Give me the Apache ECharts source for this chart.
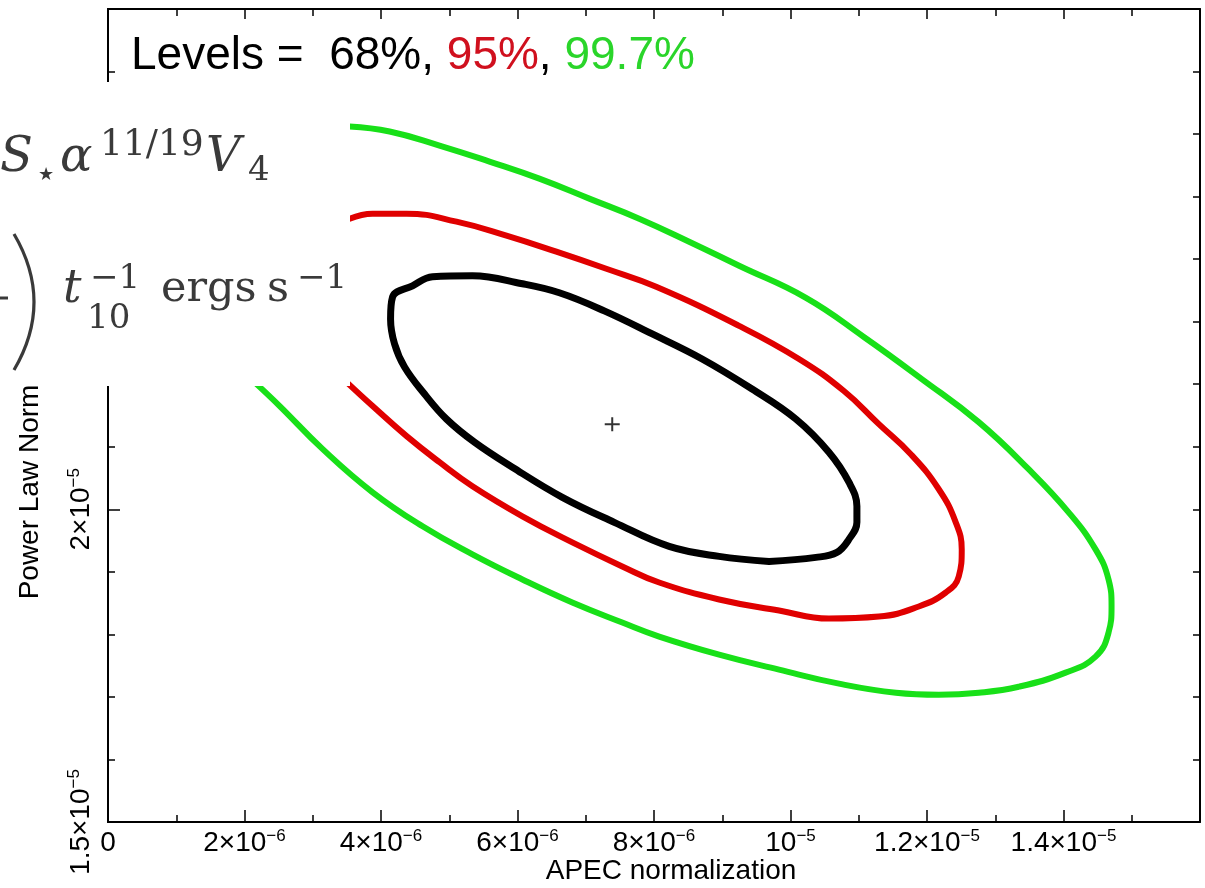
<!DOCTYPE html>
<html><head><meta charset="utf-8">
<script src="https://cdn.jsdelivr.net/npm/echarts@6/dist/echarts.min.js"></script>
<style>html,body{margin:0;padding:0;background:#fff}#c{width:1205px;height:888px}</style>
</head><body><div id="c"></div><script>
// ---- data (APEC normalization, Power Law Norm) ----
const contour68 = [
  [9.686e-6,19.167e-6],[8.954e-6,19.247e-6],
  [8.222e-6,19.407e-6],[7.418e-6,19.792e-6],[6.657e-6,20.192e-6],[5.925e-6,20.673e-6],[5.369e-6,21.074e-6],
  [4.960e-6,21.442e-6],[4.638e-6,21.843e-6],[4.345e-6,22.276e-6],[4.199e-6,22.644e-6],[4.140e-6,23.045e-6],
  [4.170e-6,23.397e-6],[4.462e-6,23.574e-6],[4.755e-6,23.718e-6],[5.340e-6,23.734e-6],[6.072e-6,23.606e-6],
  [6.613e-6,23.462e-6],[7.271e-6,23.173e-6],[7.974e-6,22.804e-6],[8.705e-6,22.404e-6],[9.437e-6,21.923e-6],
  [10.080e-6,21.442e-6],[10.563e-6,20.913e-6],[10.856e-6,20.433e-6],[10.973e-6,20.048e-6],[10.973e-6,19.792e-6],
  [10.856e-6,19.519e-6],[10.680e-6,19.311e-6],[10.373e-6,19.231e-6],[9.686e-6,19.167e-6]
];
const contour95 = [
  [3.541e-6,24.647e-6],[3.877e-6,24.728e-6],[4.375e-6,24.728e-6],[5.106e-6,24.599e-6],[5.838e-6,24.375e-6],
  [6.569e-6,24.119e-6],[7.301e-6,23.846e-6],[8.032e-6,23.558e-6],[9.247e-6,22.933e-6],[10.124e-6,22.404e-6],
  [10.783e-6,21.891e-6],[11.295e-6,21.362e-6],[11.763e-6,20.881e-6],[12.173e-6,20.321e-6],[12.421e-6,19.792e-6],
  [12.509e-6,19.359e-6],[12.465e-6,18.926e-6],[12.275e-6,18.670e-6],[11.880e-6,18.446e-6],[11.295e-6,18.285e-6],
  [10.563e-6,18.253e-6],[9.832e-6,18.381e-6],[8.954e-6,18.558e-6],[8.076e-6,18.830e-6],[7.535e-6,19.087e-6],
  [6.803e-6,19.471e-6],[6.072e-6,19.888e-6],[5.340e-6,20.369e-6],[4.857e-6,20.753e-6],[4.375e-6,21.170e-6],
  [3.877e-6,21.651e-6],[3.500e-6,22.030e-6]
];
const contour997 = [
  [3.541e-6,26.122e-6],[4.126e-6,26.042e-6],[4.857e-6,25.817e-6],[5.589e-6,25.561e-6],[6.320e-6,25.288e-6],
  [7.052e-6,24.968e-6],[7.783e-6,24.647e-6],[8.515e-6,24.279e-6],[9.247e-6,23.894e-6],[10.227e-6,23.381e-6],
  [11.075e-6,22.756e-6],[11.924e-6,22.083e-6],[12.758e-6,21.394e-6],[13.489e-6,20.641e-6],[14.075e-6,19.952e-6],
  [14.470e-6,19.359e-6],[14.660e-6,18.878e-6],[14.704e-6,18.446e-6],[14.660e-6,18.029e-6],[14.470e-6,17.644e-6],
  [14.031e-6,17.388e-6],[13.343e-6,17.163e-6],[12.758e-6,17.067e-6],[12.173e-6,17.035e-6],[11.544e-6,17.067e-6],
  [10.710e-6,17.212e-6],[9.832e-6,17.436e-6],[8.954e-6,17.676e-6],[8.076e-6,17.965e-6],[7.535e-6,18.189e-6],
  [6.803e-6,18.510e-6],[6.072e-6,18.878e-6],[5.340e-6,19.279e-6],[4.609e-6,19.728e-6],[3.877e-6,20.272e-6],
  [3.146e-6,20.962e-6],[2.516e-6,21.651e-6],[2.150e-6,22.030e-6]
];
const bestFit = [[7.388e-6, 21.362e-6]];

const xTickValues = [0, 2e-6, 4e-6, 6e-6, 8e-6, 10e-6, 12e-6, 14e-6];
const xTickLabels = ['0', '2×10^−6', '4×10^−6', '6×10^−6', '8×10^−6', '10^−5', '1.2×10^−5', '1.4×10^−5'];
const yTickValues = [15e-6, 20e-6];
const yTickLabels = ['1.5×10^−5', '2×10^−5'];
const levelNames = ['68%', '95%', '99.7%'];
const levelColors = ['#000000', '#e00000', '#18e018'];
const levelTextColors = ['#000000', '#d0101e', '#2ad52a'];
const xName = 'APEC normalization';
const yName = 'Power Law Norm';

// ---- chart ----
const SANS = '"Liberation Sans", Arial, Helvetica, sans-serif';
const SERIF = '"DejaVu Serif", "Liberation Serif", serif';
function fmt(values, labels) {
  return function (v) {
    for (let i = 0; i < values.length; i++) {
      if (Math.abs(v - values[i]) < 1e-10) {
        const p = labels[i].split('^');
        return '{b|' + p[0] + '}' + (p[1] ? '{s|' + p[1] + '}' : '');
      }
    }
    return '';
  };
}
const rich = {
  b: { fontSize: 28, lineHeight: 30, fontFamily: SANS, color: '#000' },
  s: { fontSize: 17, lineHeight: 22, verticalAlign: 'top', fontFamily: SANS, color: '#000' }
};
const axLine = { show: true, lineStyle: { color: '#000', width: 2 } };
function tick(len) { return { show: true, inside: true, length: len, lineStyle: { color: '#000', width: 1.5 } }; }

const chart = echarts.init(document.getElementById('c'), null, { renderer: 'canvas' });
const math = '#3a3a3a';
function mt(x, y, text, size, italic) {
  return { type: 'text', z: 101, x: x, y: y,
    style: { text: text, font: (italic ? 'italic ' : '') + size + 'px ' + SERIF, fill: math,
             textAlign: 'left', textVerticalAlign: 'middle' } };
}
function curve(color, width) { return { color: color, width: width, cap: 'round', join: 'round' }; }
chart.setOption({
  animation: false,
  backgroundColor: '#fff',
  grid: { left: 108, right: 5, top: 9, bottom: 66, containLabel: false },
  xAxis: [
    { type: 'value', position: 'bottom', min: 0, max: 16e-6, interval: 2e-6,
      axisLine: axLine, axisTick: tick(12),
      minorTick: { show: true, splitNumber: 2, length: 7, lineStyle: { color: '#000', width: 1.5 } },
      splitLine: { show: false }, minorSplitLine: { show: false },
      axisLabel: { margin: 6, formatter: fmt(xTickValues, xTickLabels), rich: rich, showMinLabel: true, showMaxLabel: true } },
    { type: 'value', position: 'top', min: 0, max: 16e-6, interval: 2e-6,
      axisLine: axLine, axisTick: tick(10),
      minorTick: { show: true, splitNumber: 2, length: 7, lineStyle: { color: '#000', width: 1.5 } },
      splitLine: { show: false }, axisLabel: { show: false } }
  ],
  yAxis: [
    { type: 'value', position: 'left', min: 15e-6, max: 28e-6, interval: 5e-6,
      axisLine: axLine, axisTick: tick(12), splitLine: { show: false },
      axisLabel: { rotate: 90, margin: 12, formatter: fmt(yTickValues, yTickLabels), rich: rich, showMinLabel: true } },
    { type: 'value', position: 'left', min: 15e-6, max: 28e-6, interval: 1e-6,
      axisLine: axLine, axisTick: tick(7), splitLine: { show: false }, axisLabel: { show: false } },
    { type: 'value', position: 'right', min: 15e-6, max: 28e-6, interval: 1e-6,
      axisLine: axLine, axisTick: tick(7), splitLine: { show: false }, axisLabel: { show: false } }
  ],
  series: [
    { name: levelNames[2], type: 'line', data: contour997, showSymbol: false, smooth: 0.45, silent: true,
      lineStyle: curve(levelColors[2], 6), z: 3 },
    { name: levelNames[1], type: 'line', data: contour95, showSymbol: false, smooth: 0.45, silent: true,
      lineStyle: curve(levelColors[1], 6), z: 3 },
    { name: levelNames[0], type: 'line', data: contour68, showSymbol: false, smooth: 0.4, silent: true,
      lineStyle: curve(levelColors[0], 7), z: 4 },
    { name: 'best fit', type: 'scatter', data: bestFit, silent: true,
      symbol: 'path://M0,6L15,6L15,8L0,8Z M6.5,0L8.5,0L8.5,14L6.5,14Z', symbolSize: [15, 14],
      itemStyle: { color: '#000' }, z: 5 }
  ],
  graphic: [
    { type: 'text', z: 50, x: 131, y: 56,
      style: { text: '{k|Levels =  ' + levelNames[0] + ', }{r|' + levelNames[1] + '}{k|, }{g|' + levelNames[2] + '}',
        textAlign: 'left', textVerticalAlign: 'middle',
        rich: { k: { fontSize: 46, fontFamily: SANS, fill: levelTextColors[0] },
                r: { fontSize: 46, fontFamily: SANS, fill: levelTextColors[1] },
                g: { fontSize: 46, fontFamily: SANS, fill: levelTextColors[2] } } } },
    { type: 'text', z: 50, x: 671, y: 871,
      style: { text: xName, font: '28px ' + SANS, fill: '#000', textAlign: 'center', textVerticalAlign: 'middle' } },
    { type: 'text', z: 50, x: 30, y: 492, rotation: Math.PI / 2,
      style: { text: yName, font: '28px ' + SANS, fill: '#000', textAlign: 'center', textVerticalAlign: 'middle' } },
    // pasted formula overlay
    { type: 'rect', z: 100, shape: { x: 0, y: 82, width: 350, height: 304 }, style: { fill: '#fff' } },
    mt(0, 159, 'S', 48, true),
    { type: 'text', z: 101, x: 46, y: 175, style: { text: '★', font: '18px "DejaVu Sans", sans-serif', fill: math, textAlign: 'center', textVerticalAlign: 'middle' } },
    mt(60, 159, 'α', 48, true),
    mt(100, 146, '11/19', 36, false),
    mt(206, 159, 'V', 48, true),
    mt(248, 171, '4', 34, false),
    { type: 'bezierCurve', z: 101, shape: { x1: 14, y1: 234, cpx1: 54, cpy1: 302, x2: 14, y2: 370 },
      style: { stroke: math, lineWidth: 3.2, fill: null } },
    { type: 'line', z: 101, shape: { x1: 0, y1: 298, x2: 8, y2: 298 }, style: { stroke: math, lineWidth: 3 } },
    mt(63, 290, 't', 46, true),
    mt(87, 319, '10', 34, false),
    mt(90, 279, '−1', 34, false),
    mt(161, 290, 'ergs', 43, false),
    mt(267, 290, 's', 43, false),
    mt(297, 279, '−1', 34, false)
  ]
});
</script></body></html>
